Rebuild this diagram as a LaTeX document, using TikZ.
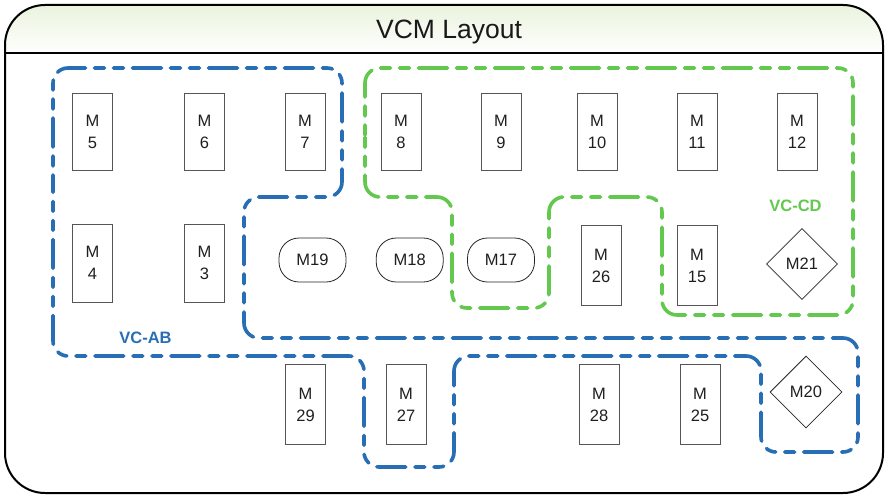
\documentclass[tikz,border=0pt]{standalone}
\usepackage{fontspec}
\setmainfont{Liberation Sans}
\usetikzlibrary{shapes.geometric}
\definecolor{vcblue}{RGB}{40,110,180}
\definecolor{vcgreen}{RGB}{98,200,78}
\definecolor{hdrgreen}{RGB}{234,243,222}
\definecolor{boxline}{RGB}{85,85,85}
\tikzset{
  mbox/.style={draw=boxline, line width=0.9pt, minimum width=40pt, minimum height=77pt, inner sep=0pt, align=center, text=black!88, font=\fontsize{16.5}{22}\selectfont},
  mpill/.style={draw=black!85, line width=0.8pt, rounded corners=20pt, minimum width=67pt, minimum height=44pt, inner sep=0pt, text=black!88, font=\fontsize{16.5}{20}\selectfont},
  mdiam/.style={diamond, draw=black!85, line width=0.8pt, minimum width=70pt, minimum height=70pt, inner sep=0pt, aspect=1, text=black!88, font=\fontsize{16.5}{20}\selectfont},
  vcline/.style={line width=3.6pt, line cap=round, line join=round, rounded corners=15pt, dash pattern=on 10pt off 9pt on 10pt off 9pt on 29pt off 9pt},
  vclabel/.style={font=\fontsize{16.5}{20}\selectfont\bfseries, inner sep=0pt}
}
\begin{document}
\begin{tikzpicture}[x=1pt,y=-1pt]
\useasboundingbox (0,0) rectangle (885,495);
% header background (pale green at top fading to white)
\begin{scope}
  \clip[rounded corners=40pt] (5,5) rectangle (883,493);
  \foreach \i in {0,...,23} {
    \pgfmathsetmacro{\pct}{100-\i*100/24}
    \fill[hdrgreen!\pct!white] (5,5+2*\i) rectangle (883,7.2+2*\i);
  }
\end{scope}
\draw[line width=2pt, rounded corners=40pt] (5,5) rectangle (883,493);
\draw[line width=1.6pt] (5,53) -- (883,53);
\node[anchor=base, font=\fontsize{26.5}{30}\selectfont, text=black!90, inner sep=0pt] (title) at (449,38.3) {VCM Layout};

% VC-AB region
\draw[vcline, vcblue] (53,200) -- (53,68) -- (342,68) -- (342,197) -- (244,197) -- (244,338) -- (858,338) -- (858,452) -- (761,452) -- (761,356) -- (454,356) -- (454,467) -- (364,467) -- (364,356) -- (53,356) -- cycle;
% VC-CD region
\draw[vcline, vcgreen] (365,150) -- (365,68) -- (853,68) -- (853,315) -- (662,315) -- (662,197) -- (549,197) -- (549,308) -- (452,308) -- (452,197) -- (365,197) -- cycle;

\node[vclabel, text=vcblue] (vcab) at (145.5,338) {VC-AB};
\node[vclabel, text=vcgreen] (vccd) at (795.5,206) {VC-CD};

% row 1
\node[mbox] (m5) at (92.5,132) {M\\5};
\node[mbox] (m6) at (204.5,132) {M\\6};
\node[mbox] (m7) at (305,132) {M\\7};
\node[mbox] (m8) at (401,132) {M\\8};
\node[mbox] (m9) at (501,132) {M\\9};
\node[mbox] (m10) at (597,132) {M\\10};
\node[mbox] (m11) at (697,132) {M\\11};
\node[mbox] (m12) at (797,132) {M\\12};
% row 2
\node[mbox, minimum height=78pt] (m4) at (92.5,263.3) {M\\4};
\node[mbox, minimum height=78pt] (m3) at (204.5,263.3) {M\\3};
\node[mpill] (m19) at (312.5,260) {M19};
\node[mpill] (m18) at (409.7,260) {M18};
\node[mpill] (m17) at (501,260) {M17};
\node[mbox, minimum height=80pt] (m26) at (601,265.7) {M\\26};
\node[mbox, minimum height=80pt] (m15) at (697,265.7) {M\\15};
\node[mdiam, minimum width=71pt, minimum height=71pt] (m21) at (802,264) {M21};
% row 3
\node[mbox, minimum height=80pt] (m29) at (305.5,404.7) {M\\29};
\node[mbox, minimum height=80pt] (m27) at (406,404.7) {M\\27};
\node[mbox, minimum height=80pt] (m28) at (599,404.7) {M\\28};
\node[mbox, minimum height=80pt] (m25) at (700,404.7) {M\\25};
\node[mdiam, minimum width=72pt, minimum height=72pt] (m20) at (806,392) {M20};
\end{tikzpicture}
\end{document}
